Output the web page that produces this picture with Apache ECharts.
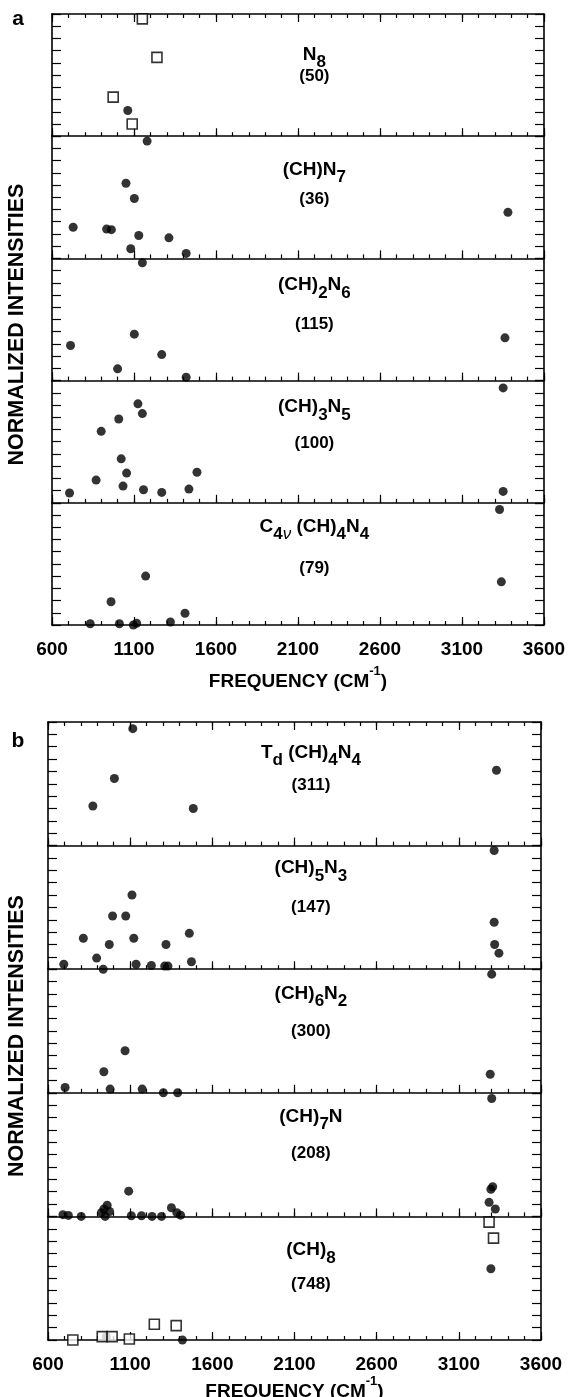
<!DOCTYPE html>
<html><head><meta charset="utf-8">
<script src="https://cdn.jsdelivr.net/npm/echarts@6/dist/echarts.min.js"></script>
<style>html,body{margin:0;padding:0;background:#fff}#c{width:570px;height:1397px}</style>
</head><body><div id="c"></div>
<script>
const FONT = '"Liberation Sans", Arial, Helvetica, sans-serif';

// ---- axes ----
const freqMin = 600, freqMax = 3600, freqMinorStep = 100, freqMajorStep = 500;
const freqTickLabels = ['600', '1100', '1600', '2100', '2600', '3100', '3600'];
const intensityMin = 0, intensityMax = 1, intensityStep = 0.1;
const xAxisTitle = '{t|FREQUENCY (CM}{sup|-1}{t|)}';
const yAxisTitle = 'NORMALIZED INTENSITIES';
const panelLetters = ['a', 'b'];

// ---- subplot labels ----
const subplotFormulas = [
  '{m|N}{s|8}',
  '{m|(CH)N}{s|7}',
  '{m|(CH)}{s|2}{m|N}{s|6}',
  '{m|(CH)}{s|3}{m|N}{s|5}',
  '{m|C}{s|4}{si|ν}{m| (CH)}{s|4}{m|N}{s|4}',
  '{m|T}{s|d}{m| (CH)}{s|4}{m|N}{s|4}',
  '{m|(CH)}{s|5}{m|N}{s|3}',
  '{m|(CH)}{s|6}{m|N}{s|2}',
  '{m|(CH)}{s|7}{m|N}',
  '{m|(CH)}{s|8}'
];
const subplotCounts = ['(50)', '(36)', '(115)', '(100)', '(79)', '(311)', '(147)', '(300)', '(208)', '(748)'];

// ---- data: [frequency cm-1, normalized intensity] ----
const n8Circles = [[1062, 0.21]];
const n8Squares = [[1151, 0.96], [1240, 0.645], [973, 0.32], [1089, 0.10]];

const chn7Circles = [[1180, 0.96], [1051, 0.615], [1102, 0.49], [729, 0.255], [933, 0.24], [962, 0.235],
  [1129, 0.187], [1313, 0.168], [1080, 0.079], [1418, 0.041], [3380, 0.377]];

const ch2n6Circles = [[1151, 0.964], [713, 0.287], [1102, 0.38], [1269, 0.213], [1000, 0.096], [1418, 0.027], [3362, 0.35]];

const ch3n5Circles = [[3351, 0.94], [1124, 0.81], [1151, 0.73], [1007, 0.686], [900, 0.585], [1022, 0.36],
  [1055, 0.243], [1484, 0.25], [869, 0.186], [1033, 0.137], [1158, 0.107], [1269, 0.085], [1435, 0.112],
  [707, 0.08], [3351, 0.093]];

const c4vCircles = [[3329, 0.945], [3340, 0.353], [1171, 0.40], [960, 0.19], [1411, 0.096], [1322, 0.025],
  [833, 0.01], [1011, 0.01], [1096, 0.0], [1116, 0.014]];

const tdCircles = [[1116, 0.946], [1004, 0.543], [873, 0.32], [1484, 0.30], [3329, 0.61]];

const ch5n3Circles = [[3315, 0.96], [1111, 0.60], [993, 0.43], [1073, 0.43], [3315, 0.38], [1460, 0.29],
  [815, 0.25], [1122, 0.25], [973, 0.20], [1318, 0.20], [3318, 0.20], [3344, 0.13], [896, 0.09],
  [696, 0.04], [1136, 0.04], [1229, 0.03], [1310, 0.025], [1330, 0.025], [1473, 0.06], [936, 0.0]];

const ch6n2Circles = [[3300, 0.96], [1069, 0.34], [940, 0.17], [3291, 0.15], [704, 0.043], [978, 0.03],
  [1173, 0.03], [1302, 0.0], [1389, 0.0]];

const ch7nCircles = [[3300, 0.954], [1091, 0.204], [3306, 0.24], [3295, 0.22], [3284, 0.114], [3322, 0.06],
  [960, 0.09], [940, 0.06], [925, 0.03], [948, 0.0], [975, 0.04], [691, 0.014], [724, 0.008], [802, 0.0],
  [1107, 0.005], [1169, 0.005], [1233, 0.0], [1291, 0.0], [1351, 0.07], [1384, 0.03], [1407, 0.01]];

const ch8Circles = [[3295, 0.576], [955, 0.027], [1418, 0.0]];
const ch8Squares = [[3284, 0.954], [3311, 0.824], [1247, 0.127], [1380, 0.116], [751, 0.0], [930, 0.027],
  [990, 0.027], [1095, 0.008]];

const subplotCircles = [n8Circles, chn7Circles, ch2n6Circles, ch3n5Circles, c4vCircles,
  tdCircles, ch5n3Circles, ch6n2Circles, ch7nCircles, ch8Circles];
const subplotSquares = [n8Squares, [], [], [], [], [], [], [], [], ch8Squares];

// ---- layout ----
const panels = [
  { left: 52, width: 492, top: 14, h: 122.2, titleY: 678, letterY: 19 },
  { left: 48, width: 493, top: 722, h: 123.6, titleY: 1388, letterY: 741 }
];
// vertical centre of formula line / count line, px below each subplot's top edge
const formulaOffsets = [43, 36, 29, 29, 26, 33, 25, 27, 26, 36];
const countOffsets = [62, 63, 66, 63, 66, 63, 62, 62, 61, 68];

const chart = echarts.init(document.getElementById('c'), null, { renderer: 'canvas' });

const grids = [], xAxes = [], yAxes = [], series = [], graphics = [];
const black = '#000';

for (let i = 0; i < 10; i++) {
  const p = panels[Math.floor(i / 5)];
  const k = i % 5;
  const top = p.top + k * p.h;
  grids.push({ left: p.left, width: p.width, top: top, height: p.h, containLabel: false });

  const isBottom = k === 4, isTop = k === 0;
  const mainX = xAxes.length;
  xAxes.push({
    gridIndex: i, type: 'value', position: 'bottom', min: freqMin, max: freqMax, interval: freqMinorStep,
    axisLine: { show: true, onZero: false, lineStyle: { color: black, width: 1.6 } },
    axisTick: { show: true, inside: true, length: 4, lineStyle: { color: black, width: 1.2 } },
    axisLabel: {
      show: isBottom, margin: 15, color: black, fontFamily: FONT, fontWeight: 'bold', fontSize: 19,
      formatter: v => { const s = String(Math.round(v)); return freqTickLabels.includes(s) ? s : ''; }
    },
    splitLine: { show: false }
  });
  // major ticks (every 500 cm-1 starting at 600)
  xAxes.push({
    gridIndex: i, type: 'value', position: 'bottom', min: 0, max: freqMax - freqMin, interval: freqMajorStep,
    axisLine: { show: false, onZero: false }, axisLabel: { show: false }, splitLine: { show: false },
    axisTick: { show: true, inside: true, length: 8, lineStyle: { color: black, width: 1.2 } }
  });
  if (isTop) {
    xAxes.push({
      gridIndex: i, type: 'value', position: 'top', min: freqMin, max: freqMax, interval: freqMinorStep,
      axisLine: { show: true, onZero: false, lineStyle: { color: black, width: 1.6 } },
      axisTick: { show: true, inside: true, length: 4, lineStyle: { color: black, width: 1.2 } },
      axisLabel: { show: false }, splitLine: { show: false }
    });
    xAxes.push({
      gridIndex: i, type: 'value', position: 'top', min: 0, max: freqMax - freqMin, interval: freqMajorStep,
      axisLine: { show: false, onZero: false }, axisLabel: { show: false }, splitLine: { show: false },
      axisTick: { show: true, inside: true, length: 8, lineStyle: { color: black, width: 1.2 } }
    });
  }
  const leftY = yAxes.length;
  ['left', 'right'].forEach(pos => {
    yAxes.push({
      gridIndex: i, type: 'value', position: pos, min: intensityMin, max: intensityMax, interval: intensityStep,
      axisLine: { show: true, onZero: false, lineStyle: { color: black, width: 1.6 } },
      axisTick: { show: true, inside: true, length: 9, lineStyle: { color: black, width: 1.2 } },
      axisLabel: { show: false }, splitLine: { show: false }
    });
  });

  series.push({
    type: 'scatter', xAxisIndex: mainX, yAxisIndex: leftY, data: subplotCircles[i],
    symbol: 'circle', symbolSize: 9, itemStyle: { color: black }, clip: false, silent: true
  });
  if (subplotSquares[i].length) {
    series.push({
      type: 'scatter', xAxisIndex: mainX, yAxisIndex: leftY, data: subplotSquares[i],
      symbol: 'rect', symbolSize: 10, itemStyle: { color: '#fff', borderColor: black, borderWidth: 1.6 },
      clip: false, silent: true, z: 3
    });
  }

  const cx = p.left + p.width * 1600 / 3000;
  graphics.push({
    type: 'text', x: cx, y: top + formulaOffsets[i] - 12, z: 10,
    style: {
      text: subplotFormulas[i], align: 'center', verticalAlign: 'top',
      rich: {
        m: { fontFamily: FONT, fontWeight: 'bold', fontSize: 19, lineHeight: 22, verticalAlign: 'top', fill: black },
        s: { fontFamily: FONT, fontWeight: 'bold', fontSize: 17, lineHeight: 22, verticalAlign: 'top', padding: [9, 0, 0, 0], fill: black },
        si: { fontFamily: FONT, fontStyle: 'italic', fontSize: 17, lineHeight: 22, verticalAlign: 'top', padding: [9, 0, 0, 0], fill: black }
      }
    }
  });
  graphics.push({
    type: 'text', x: cx, y: top + countOffsets[i], z: 10,
    style: { text: subplotCounts[i], align: 'center', verticalAlign: 'middle',
      fontFamily: FONT, fontWeight: 'bold', fontSize: 17, fill: black }
  });
}

panels.forEach((p, j) => {
  graphics.push({
    type: 'text', x: 18, y: p.letterY,
    style: { text: panelLetters[j], align: 'center', verticalAlign: 'middle',
      fontFamily: FONT, fontWeight: 'bold', fontSize: 21, fill: black }
  });
  graphics.push({
    type: 'text', x: 17, y: p.top + p.h * 2.5 + 5, rotation: Math.PI / 2,
    style: { text: yAxisTitle, align: 'center', verticalAlign: 'middle',
      fontFamily: FONT, fontWeight: 'bold', fontSize: 21.5, fill: black }
  });
  graphics.push({
    type: 'text', x: p.left + p.width / 2, y: p.titleY,
    style: {
      text: xAxisTitle, align: 'center', verticalAlign: 'middle',
      rich: {
        t: { fontFamily: FONT, fontWeight: 'bold', fontSize: 19, lineHeight: 26, verticalAlign: 'bottom', fill: black },
        sup: { fontFamily: FONT, fontWeight: 'bold', fontSize: 13, lineHeight: 12, verticalAlign: 'top', fill: black }
      }
    }
  });
});

chart.setOption({
  animation: false,
  backgroundColor: '#fff',
  grid: grids, xAxis: xAxes, yAxis: yAxes, series: series, graphic: graphics
});
</script></body></html>
